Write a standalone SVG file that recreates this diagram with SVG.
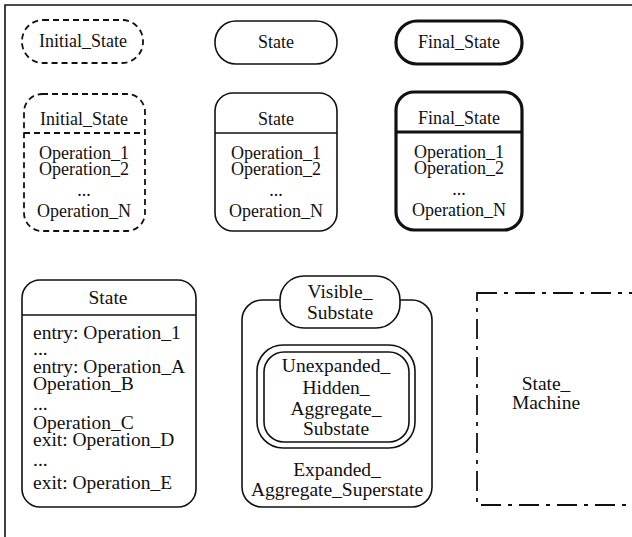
<svg xmlns="http://www.w3.org/2000/svg" width="632" height="537" viewBox="0 0 632 537">
<style>
text{font-family:"Liberation Serif","Times New Roman",serif;font-size:18px;fill:#111}
.b text{font-size:19.5px}
.c{text-anchor:middle}
.s{fill:#fff;stroke:#111;stroke-width:1.6}
.d{fill:#fff;stroke:#111;stroke-width:1.8;stroke-dasharray:6 4}
.f{fill:#fff;stroke:#111;stroke-width:3.2}
.m{fill:none;stroke:#111;stroke-width:1.8;stroke-dasharray:20 7 4 7}
.ln{stroke:#111;stroke-width:1.6;fill:none}
</style>
<rect width="632" height="537" fill="#fff"/>
<g id="frame"><path class="ln" d="M5 537V5H632"/></g>
<g id="connectors"></g>
<g id="initial_top"><rect class="d" x="22" y="20" width="121" height="43" rx="21"/><text class="c" x="83" y="47">Initial_State</text></g>
<g id="state_top"><rect class="s" x="215" y="21" width="122" height="43" rx="21"/><text class="c" x="276" y="48">State</text></g>
<g id="final_top"><rect class="f" x="396" y="21" width="126" height="43" rx="21"/><text class="c" x="459" y="48">Final_State</text></g>
<g id="initial_mid"><rect class="d" x="24" y="94" width="121" height="137" rx="18"/><line class="d" x1="24" y1="133" x2="145" y2="133"/>
<text class="c" x="84" y="125">Initial_State</text><text class="c" x="84" y="159">Operation_1</text><text class="c" x="84" y="175">Operation_2</text><text class="c" x="84" y="196">...</text><text class="c" x="84" y="217">Operation_N</text></g>
<g id="state_mid"><rect class="s" x="215" y="93" width="122" height="138" rx="18"/><line class="ln" x1="215" y1="133" x2="337" y2="133"/>
<text class="c" x="276" y="125">State</text><text class="c" x="276" y="159">Operation_1</text><text class="c" x="276" y="175">Operation_2</text><text class="c" x="276" y="196">...</text><text class="c" x="276" y="217">Operation_N</text></g>
<g id="final_mid"><rect class="f" x="396" y="92" width="126" height="138" rx="18"/><line class="f" x1="396" y1="132" x2="522" y2="132"/>
<text class="c" x="459" y="124">Final_State</text><text class="c" x="459" y="158">Operation_1</text><text class="c" x="459" y="174">Operation_2</text><text class="c" x="459" y="195">...</text><text class="c" x="459" y="216">Operation_N</text></g>
<g id="state_full" class="b"><rect class="s" x="22" y="280" width="174" height="227" rx="18"/><line class="ln" x1="22" y1="315" x2="196" y2="315"/>
<text class="c" x="108" y="304">State</text>
<text x="33" y="339">entry: Operation_1</text><text x="33" y="355">...</text><text x="33" y="373">entry: Operation_A</text><text x="33" y="390">Operation_B</text><text x="33" y="410">...</text><text x="33" y="429">Operation_C</text><text x="33" y="446">exit: Operation_D</text><text x="33" y="466">...</text><text x="33" y="489">exit: Operation_E</text></g>
<g id="expanded_superstate" class="b"><rect class="s" x="242" y="300" width="190" height="207" rx="20"/>
<text class="c" x="337" y="476">Expanded_</text><text class="c" x="337" y="496">Aggregate_Superstate</text></g>
<g id="visible_substate" class="b"><rect class="s" x="280" y="276" width="120" height="52" rx="24"/><text class="c" x="340" y="298">Visible_</text><text class="c" x="340" y="319">Substate</text></g>
<g id="hidden_substate" class="b"><rect class="s" x="257" y="345" width="158" height="103" rx="26"/><rect class="s" x="264" y="352" width="145" height="90" rx="20"/>
<text class="c" x="336" y="372">Unexpanded_</text><text class="c" x="336" y="394">Hidden_</text><text class="c" x="336" y="415">Aggregate_</text><text class="c" x="336" y="435">Substate</text></g>
<g id="state_machine" class="b"><rect class="m" x="477" y="293" width="172" height="212"/><text class="c" x="546" y="390">State_</text><text class="c" x="546" y="409">Machine</text></g>
</svg>
